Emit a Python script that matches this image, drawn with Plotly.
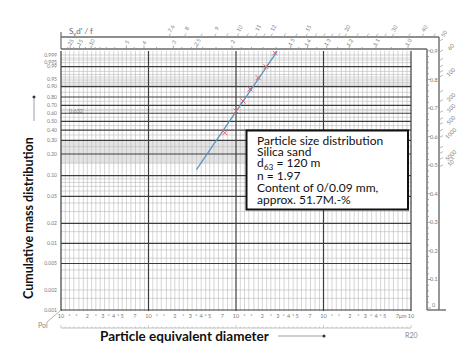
import numpy as np
import plotly.graph_objects as go

W, H = 474, 357
ML, MR, MT, MB = 52, 70, 43, 54
PW, PH = W - ML - MR, H - MT - MB

def g(F):
    F = np.asarray(F, dtype=float)
    return np.log(-np.log(1.0 - F))

# ---------------- data ----------------
fit_d = [35.3, 295.0]            # fitted RRSB line (end points), µm
fit_F = [0.1215, 0.9996]
meas_d = [74.5, 100, 120, 145, 179, 220, 277]       # measured points, µm
meas_F = [0.373, 0.629, 0.754, 0.880, 0.957, 0.990, 0.9994]

y_tick_F = [0.999, 0.995, 0.99, 0.95, 0.90, 0.80, 0.70, 0.60, 0.50, 0.40,
            0.30, 0.20, 0.10, 0.05, 0.02, 0.01, 0.005, 0.002, 0.001]
y_tick_text = ["0.999", "0.995", "0.99", "0.95", "0.90", "0.80", "0.70", "0.60",
               "0.50", "0.40", "0.30", "0.20", "0.10", "0.05", "0.02", "0.01",
               "0.005", "0.002", "0.001"]
F_major = [0.99, 0.90, 0.80, 0.70, 0.60, 0.50, 0.40, 0.30, 0.20, 0.10,
           0.05, 0.02, 0.01, 0.005, 0.001]
F_minor = [0.999, 0.998, 0.997, 0.995, 0.98, 0.97, 0.96, 0.95, 0.94, 0.93,
           0.92, 0.91, 0.85, 0.75, 0.65, 0.632, 0.55, 0.45, 0.35, 0.25, 0.15,
           0.09, 0.08, 0.07, 0.06, 0.04, 0.03, 0.015, 0.008, 0.006, 0.004,
           0.003, 0.002, 0.0015]
R20 = [1.0, 1.12, 1.25, 1.4, 1.6, 1.8, 2.0, 2.24, 2.5, 2.8, 3.15, 3.55, 4.0,
       4.5, 5.0, 5.6, 6.3, 7.1, 8.0, 9.0]
decades = [1, 10, 100, 1000, 10000]
x_tick_mant = [1, 1.25, 1.5, 2, 2.5, 3, 3.5, 4, 4.5, 5, 7]
x_tick_mant_text = ["10", "*", "*", "2", "*", "3", "*", "4", "*", "5", "7"]

n_band_labels = [25, 15, 10, 5, 4, 3, 2.5, 2, 1.5, 1.4, 1.3, 1.2, 1.1, 1.0]
n_band_text = ["25", "15", "10", "5", "4", "3", "2.5", "2", "1.5", "1.4", "1.3",
               "1.2", "1.1", "1.0"]
n_band_ticks = [30, 25, 20, 15, 12, 10, 9, 8, 7, 6, 5, 4.5, 4, 3.5, 3, 2.8, 2.6,
                2.5, 2.4, 2.2, 2, 1.9, 1.8, 1.7, 1.6, 1.5, 1.45, 1.4, 1.35, 1.3,
                1.25, 1.2, 1.15, 1.1, 1.05, 1.0, 0.95]
n_right_labels = [0.9, 0.8, 0.7, 0.6, 0.5, 0.4, 0.3, 0.2, 0.1, 0.0]
n_right_text = ["0.9", "0.8", "0.7", "0.6", "0.5", "0.4", "0.3", "0.2", "0.1", "0"]
S_top_labels = [7.6, 8, 9, 10, 11, 12, 15, 20, 30, 40]
S_top_text = ["7.6", "8", "9", "10", "11", "12", "15", "20", "30", "40"]
S_top_ticks = [7.6, 8, 8.5, 9, 9.5, 10, 10.5, 11, 11.5, 12, 13, 14, 15, 16, 17,
               18, 19, 20, 22, 24, 26, 28, 30, 35, 40, 45]
S_right_labels = [50, 60, 100, 200, 300, 500, 1000, 5000, 10000]
S_right_text = ["50", "60", "100", "200", "300", "500", "1000", "5000", "10<sup>4</sup>"]
S_right_ticks = [50, 60, 70, 80, 90, 100, 150, 200, 300, 400, 500, 700, 1000,
                 2000, 3000, 5000, 10000]

box_lines = ["Particle size distribution", "Silica sand",
             "d<sub>63</sub> = 120 m", "n = 1.97",
             "Content of 0/0.09 mm,", "approx. 51.7M.-%"]

# ---------------- axes geometry ----------------
PX_DEC = PW / (4 + 2 / 87.5)
x_lo = -1.0 / PX_DEC
x_hi = 4 + 1.0 / PX_DEC
PX_G = 28.85
y_lo = float(g(0.001)) - 1.0 / PX_G
y_hi = y_lo + PH / PX_G

def X(px):
    return (px - ML) / PW

def Y(py):
    return (H - MB - py) / PH

# nomogram (pole construction) helpers, pixel positions
POLE_X, POLE_Y = 48.0, 300.0
def xn(n):
    return POLE_X + 352.0 / n

def yn(n):
    return POLE_Y - 285.6 * n

def n_of_S(S, b):
    return np.sqrt(b / np.log(S / 6.39))

DARK = "#3c3c3c"
THIN = "#b9b9b9"
GREY_TXT = "#7a7a7a"
FONT = "Lato"

fig = go.Figure()

# shaded band
fig.add_trace(go.Scatter(x=[1, 150, 150, 1, 1],
                         y=list(g([0.15, 0.15, 0.30, 0.30, 0.15])),
                         fill="toself", fillcolor="#e4e4e4", mode="lines",
                         line=dict(width=0), hoverinfo="skip", showlegend=False))

def hlines(Fs):
    xs, ys = [], []
    for F in Fs:
        v = float(g(F))
        xs += [1, 10000, None]
        ys += [v, v, None]
    return xs, ys

def vlines(vals):
    xs, ys = [], []
    for v in vals:
        xs += [v, v, None]
        ys += [y_lo, y_hi, None]
    return xs, ys

minor_x = [m * d for d in decades[:-1] for m in R20[1:]]
hx, hy = hlines(F_minor)
vx, vy = vlines(minor_x)
fig.add_trace(go.Scatter(x=hx + vx, y=hy + vy, mode="lines",
                         line=dict(color=THIN, width=0.6),
                         hoverinfo="skip", showlegend=False))
hx, hy = hlines(F_major)
vx, vy = vlines(decades)
fig.add_trace(go.Scatter(x=hx + vx, y=hy + vy, mode="lines",
                         line=dict(color=DARK, width=1.2),
                         hoverinfo="skip", showlegend=False))

# fitted line and points
fig.add_trace(go.Scatter(x=fit_d, y=list(g(fit_F)), mode="lines",
                         line=dict(color="#5f93c4", width=1.3),
                         hoverinfo="skip", showlegend=False))
fig.add_trace(go.Scatter(x=meas_d, y=list(g(meas_F)), mode="markers",
                         marker=dict(symbol="x-thin", size=5,
                                     line=dict(color="#e0606e", width=1)),
                         hoverinfo="skip", showlegend=False))

# ---------------- ticks ----------------
xt_vals, xt_text = [], []
for d in decades[:-1]:
    for m, t in zip(x_tick_mant, x_tick_mant_text):
        xt_vals.append(m * d)
        xt_text.append(t)
xt_vals += [8000, 10000]
xt_text += ["µm", "10"]

fig.update_xaxes(type="log", range=[x_lo, x_hi], showgrid=False, zeroline=False,
                 showline=False, tickmode="array", tickvals=xt_vals,
                 ticktext=xt_text, ticks="", tickangle=0,
                 tickfont=dict(size=5.5, color=GREY_TXT, family=FONT))
fig.update_yaxes(range=[y_lo, y_hi], showgrid=False, zeroline=False,
                 showline=False, tickmode="array", tickvals=list(g(y_tick_F)),
                 ticktext=y_tick_text, ticks="", ticklabelstandoff=2,
                 tickfont=dict(size=5, color=GREY_TXT, family=FONT))

shapes, annos = [], []

def pline(x0, y0, x1, y1, color="#707070", width=1.0):
    shapes.append(dict(type="line", xref="paper", yref="paper",
                       x0=X(x0), y0=Y(y0), x1=X(x1), y1=Y(y1),
                       line=dict(color=color, width=width)))

def ptext(px, py, text, size=6, color=GREY_TXT, angle=0, xanchor="center",
          yanchor="middle", bold=False, family=FONT):
    if bold:
        text = "<b>" + text + "</b>"
    annos.append(dict(xref="paper", yref="paper", x=X(px), y=Y(py), text=text,
                      showarrow=False, textangle=angle, xanchor=xanchor,
                      yanchor=yanchor, borderpad=0,
                      font=dict(size=size, color=color, family=family)))

# frame of nomogram scales
FR = "#6a6a6a"
pline(53, 24, 53, 41, FR, 1.2)
pline(53, 29, 431, 29, FR, 1.4)
pline(53, 41, 419, 41, FR, 1.4)
pline(419, 41, 419, 302, FR, 1.4)
pline(431, 29, 431, 302, FR, 1.4)
pline(419, 302, 438, 302, FR, 1.4)

# n scale (top band)
for n in n_band_ticks:
    x = xn(n)
    if 54 < x < 418:
        L = 3.5 if n in n_band_labels else 2
        pline(x, 41, x, 41 - L, "#8a8a8a", 0.7)
for n, t in zip(n_band_labels, n_band_text):
    ptext(xn(n) + 1, 34.5, t, size=5.5, angle=-60)

# n scale (right band)
for k in range(0, 46):
    n = k * 0.02
    y = yn(n)
    L = 4 if k % 5 == 0 else 2
    pline(419, y, 419 + L, y, "#8a8a8a", 0.7)
for n, t in zip(n_right_labels, n_right_text):
    ptext(425.5, yn(n) - (3 if n == 0 else 0), t, size=5.5)

# S_v d'/f scale
for S in S_top_ticks:
    x = xn(n_of_S(S, 1.7))
    if x < 430:
        pline(x, 29, x + 2.2, 25.5, "#9a9a9a", 0.7)
for S, t in zip(S_top_labels, S_top_text):
    ptext(xn(n_of_S(S, 1.7)) + 3, 20, t, size=5.5, angle=-60)
for S in S_right_ticks:
    y = yn(n_of_S(S, 1.795))
    if y > 31:
        pline(431, y, 435, y - 2.2, "#9a9a9a", 0.7)
for S, t in zip(S_right_labels, S_right_text):
    y = yn(n_of_S(S, 1.795)) - 5
    if S == 50:
        ptext(436, 26, t, size=5.5, angle=-60)
    else:
        ptext(443, y, t, size=5.5, angle=-45)
ptext(60, 23, "S<sub>v</sub>d' / f", size=8, color="#666", xanchor="left")

# bottom scale, pole, R20
pline(53, 320, 403, 320, "#b0b0b0", 0.8)
for d in decades:
    for m in R20:
        v = m * d
        if v > 10000:
            continue
        px = 53 + np.log10(v) * PX_DEC
        L = 3 if m == 1.0 else 1.5
        pline(px, 320, px, 320 - L, "#b0b0b0", 0.6)
pline(39, 314, 52.5, 302.5, "#a0a0a0", 0.8)
ptext(35, 317, "Pol", size=7, color="#888")
ptext(403, 327, "R20", size=7, color="#888")

# 0.632 label
ptext(60, 102.5, "0.632", size=5.5, xanchor="left")

# text box
shapes.append(dict(type="rect", xref="paper", yref="paper", x0=X(238.5),
                   y0=Y(201.5), x1=X(400), y1=Y(122.5),
                   line=dict(color="#111", width=2), fillcolor="white",
                   layer="above"))
for i, t in enumerate(box_lines):
    ptext(248, 132 + i * 11.9, t, size=12, color="#111", xanchor="left")

# titles
ptext(91, 328, "Particle equivalent diameter", size=13.5, color="#111",
      xanchor="left", bold=True)
pline(270, 328, 315, 328, "#888", 0.8)
shapes.append(dict(type="circle", xref="paper", yref="paper",
                   x0=X(314.5), x1=X(317.5), y0=Y(329.5), y1=Y(326.5),
                   fillcolor="#333", line=dict(width=0)))
ptext(21, 210, "Cumulative mass distribution", size=12.5, color="#111",
      angle=-90, bold=True)
pline(26, 91, 26, 113, "#888", 0.8)
shapes.append(dict(type="circle", xref="paper", yref="paper",
                   x0=X(24.5), x1=X(27.5), y0=Y(90.5), y1=Y(87.5),
                   fillcolor="#333", line=dict(width=0)))

fig.update_layout(width=W, height=H, margin=dict(l=ML, r=MR, t=MT, b=MB),
                  paper_bgcolor="white", plot_bgcolor="white",
                  showlegend=False, hovermode=False,
                  shapes=shapes, annotations=annos,
                  font=dict(family=FONT))

fig.write_html("out.html")
